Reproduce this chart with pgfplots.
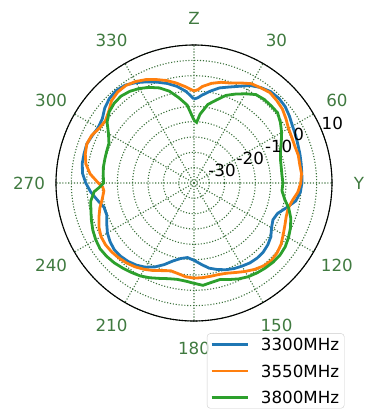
\documentclass[border=0pt]{standalone}
\usepackage{pgfplots}
\pgfplotsset{compat=1.18}
\usepackage{pgfplotstable}
\usepgfplotslibrary{polar}
\usepackage{fontspec}
\setmainfont{DejaVu Sans}
\definecolor{mblue}{RGB}{31,119,180}
\definecolor{morange}{RGB}{255,127,14}
\definecolor{mgreen}{RGB}{44,160,44}
\definecolor{gridgreen}{RGB}{58,112,58}
\definecolor{labgreen}{RGB}{64,122,64}

% angle (deg, clockwise from Z) and gain (dB)
\pgfplotstableread{
a v
0 -7.6
2.5 -7.2
5 -6.3
10 -4.6
15 -2.9
20 -1.7
25 -0.2
30 1.7
35 3.0
40 3.9
45 4.1
50 3.8
55 3.0
60 2.1
65 1.6
70 1.1
75 0.8
80 0.5
85 0.3
90 0.2
95 -0.2
100 -1.3
105 -3.8
110 -6.0
115 -6.6
120 -5.8
125 -4.4
130 -3.6
135 -3.1
140 -3.0
145 -3.2
150 -3.7
155 -4.2
160 -4.9
165 -5.8
170 -6.8
175 -8.4
180 -9.8
185 -10.6
190 -10.0
195 -8.7
200 -6.7
205 -4.8
210 -3.3
215 -2.3
220 -1.6
225 -1.2
230 -1.1
235 -1.6
240 -2.4
245 -3.6
250 -4.7
255 -4.6
260 -3.0
265 -1.2
267.5 -0.5
270 0.3
275 1.5
280 2.0
285 2.1
290 2.2
295 1.6
300 1.1
305 1.5
310 3.0
315 4.0
320 4.4
325 4.0
330 2.8
335 1.4
340 0.0
345 -1.4
350 -3.0
355 -5.0
360 -7.6
}\tblue

\pgfplotstableread{
a v
0 -5.0
2.5 -4.5
5 -3.4
10 -2.0
15 -1.0
20 -0.3
25 1.0
30 2.4
35 2.9
40 3.5
45 3.1
50 2.6
55 1.6
60 0.6
65 0.2
70 0.0
75 0.2
80 0.0
85 0.2
90 -0.2
95 -1.0
100 -2.4
105 -3.2
110 -3.0
115 -2.3
120 -1.4
125 -0.3
130 0.4
135 0.7
140 0.3
145 -0.6
150 -1.7
155 -2.8
160 -3.7
165 -4.1
170 -4.1
175 -4.0
180 -4.0
185 -4.3
190 -5.0
195 -5.4
200 -4.6
205 -3.5
210 -2.5
215 -1.6
220 -0.9
225 -0.4
230 0.0
235 0.2
240 0.0
245 -0.8
250 -2.0
255 -3.2
260 -4.6
265 -5.5
267.5 -5.2
270 -3.8
275 -1.0
280 0.8
285 1.7
290 2.2
295 1.8
300 0.7
305 0.3
310 1.3
315 3.0
320 3.7
325 3.8
330 3.2
335 2.2
340 0.9
345 -0.4
350 -1.9
355 -3.5
360 -5.0
}\torange

\pgfplotstableread{
a v
0 -14.5
2.5 -15.2
5 -12.5
10 -9.0
15 -7.0
20 -4.6
25 -3.0
30 -1.4
35 0.2
40 0.6
45 0.6
50 0.6
55 -0.6
60 -2.0
65 -3.6
70 -5.0
75 -5.8
80 -6.1
85 -6.2
90 -6.0
95 -6.2
100 -5.0
105 -3.0
110 -1.4
115 -0.3
120 0.6
125 1.3
130 1.6
135 1.5
140 1.2
145 0.8
150 0.3
155 -0.5
160 -1.5
165 -2.4
170 -2.1
175 -1.5
180 -2.3
185 -2.9
190 -3.1
195 -2.7
200 -1.9
205 -0.9
210 0.0
215 0.6
220 1.2
225 1.8
230 2.2
235 2.4
240 2.0
245 1.4
250 0.6
255 -0.2
260 -0.8
265 -2.3
267.5 -4.2
270 -5.5
275 -5.3
280 -5.0
285 -4.9
290 -4.7
295 -4.4
300 -2.8
305 -0.4
310 1.1
315 1.8
320 2.0
325 1.5
330 0.6
335 -0.6
340 -2.0
345 -4.0
350 -6.8
355 -9.5
360 -14.5
}\tgreen

\begin{document}
\begin{tikzpicture}[font=\fontsize{16.7}{20}\selectfont]
\begin{polaraxis}[
  at={(0pt,0pt)}, anchor=center,
  scale only axis, width=276pt, height=276pt,
  xmin=0, xmax=360, ymin=0, ymax=45,
  xtick={0,30,...,330},
  xticklabels={,,,,,,,,,,,},
  ytick={5,10,...,45},
  yticklabels={,,,,,,,,,},
  major tick length=0pt,
  grid=major,
  major grid style={gridgreen, line width=1.1pt, dash pattern=on 1.1pt off 1.8pt},
  x axis line style={black, line width=1.1pt},
  y axis line style={draw=none},
  clip=false,
  legend cell align=left,
  legend style={at={(0.547,-0.045)}, anchor=north west, draw=black!20,
    rounded corners=3pt, fill=white, fill opacity=0.8, text opacity=1,
    inner xsep=3pt, inner ysep=3pt, row sep=10pt,
    nodes={inner sep=2pt, text height=12.2pt, text depth=0pt},
    /tikz/every odd column/.append style={column sep=10pt}},
  legend image code/.code={\draw[#1] (0pt,0pt) -- (36pt,0pt);},
]
\addplot[mblue, line width=2.8pt, no markers] table[x expr={90-\thisrow{a}}, y expr={\thisrow{v}+35}] {\tblue};
\addlegendentry{3300MHz}
\addplot[morange, line width=2.8pt, no markers] table[x expr={90-\thisrow{a}}, y expr={\thisrow{v}+35}] {\torange};
\addlegendentry{3550MHz}
\addplot[mgreen, line width=2.8pt, no markers] table[x expr={90-\thisrow{a}}, y expr={\thisrow{v}+35}] {\tgreen};
\addlegendentry{3800MHz}
% radial tick labels
\node[anchor=base west, inner sep=0pt, yshift=1pt] at (axis cs:22.5,5) {-30};
\node[anchor=base west, inner sep=0pt, yshift=1pt] at (axis cs:22.5,15) {-20};
\node[anchor=base west, inner sep=0pt, yshift=1pt] at (axis cs:22.5,25) {-10};
\node[anchor=base west, inner sep=0pt, yshift=1pt] at (axis cs:22.5,35) {0};
\node[anchor=base west, inner sep=0pt, yshift=1pt] at (axis cs:22.5,45) {10};
% angular tick labels
\node[text=labgreen, inner sep=0pt] at (axis cs:90,53.8) {Z};
\node[text=labgreen, inner sep=0pt] at (axis cs:60,53.8) {30};
\node[text=labgreen, inner sep=0pt] at (axis cs:30,53.8) {60};
\node[text=labgreen, inner sep=0pt] at (axis cs:0,53.8) {Y};
\node[text=labgreen, inner sep=0pt] at (axis cs:-30,53.8) {120};
\node[text=labgreen, inner sep=0pt] at (axis cs:-60,53.8) {150};
\node[text=labgreen, inner sep=0pt] at (axis cs:-90,53.8) {180};
\node[text=labgreen, inner sep=0pt] at (axis cs:-120,53.8) {210};
\node[text=labgreen, inner sep=0pt] at (axis cs:-150,53.8) {240};
\node[text=labgreen, inner sep=0pt] at (axis cs:180,53.8) {270};
\node[text=labgreen, inner sep=0pt] at (axis cs:150,53.8) {300};
\node[text=labgreen, inner sep=0pt] at (axis cs:120,53.8) {330};
\end{polaraxis}
\pgfresetboundingbox
\path[use as bounding box] (-194pt,-230pt) rectangle (171pt,183pt);
\end{tikzpicture}
\end{document}
